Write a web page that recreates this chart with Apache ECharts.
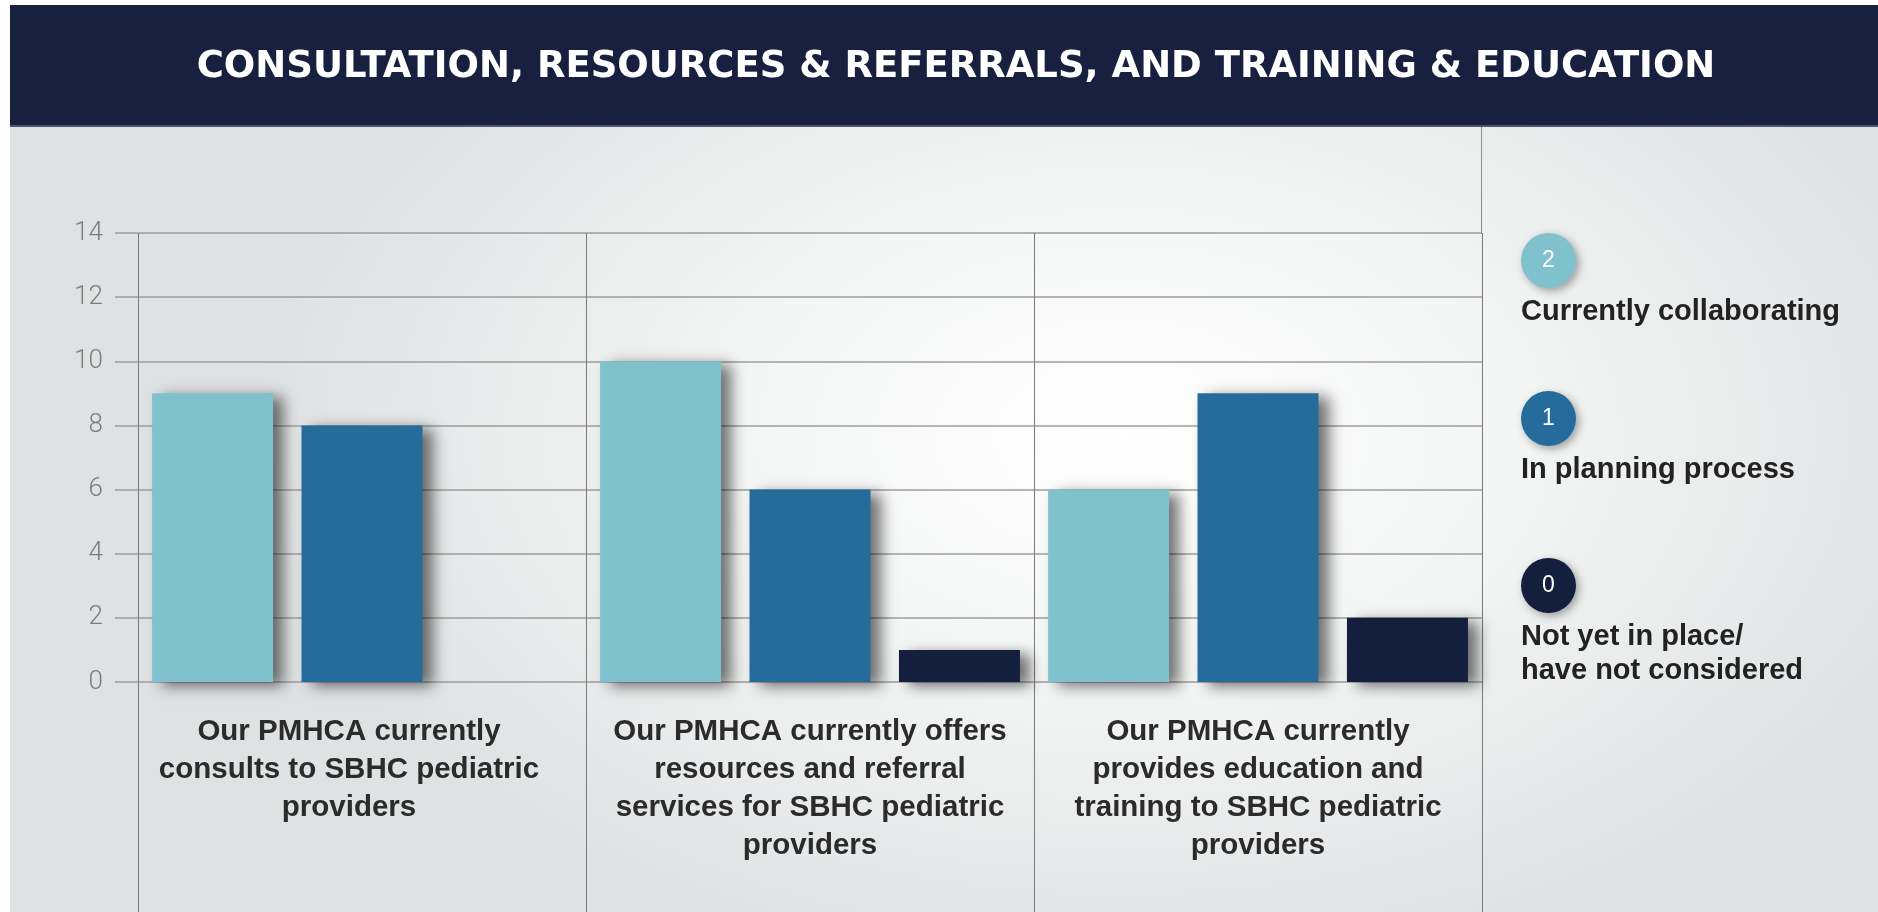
<!DOCTYPE html>
<html>
<head>
<meta charset="utf-8">
<title>Consultation, Resources &amp; Referrals, and Training &amp; Education</title>
<script src="https://cdn.jsdelivr.net/npm/echarts@6/dist/echarts.min.js"></script>
<style>
  html, body {
    margin: 0;
    padding: 0;
    background: #fff;
  }

  .page {
    position: relative;
    width: 1878px;
    height: 912px;
    overflow: hidden;
  }

  /* grey backdrop with the soft white glow behind the bars */
  .panel {
    position: absolute;
    left: 10px;
    top: 127px;
    width: 1868px;
    height: 785px;
    background: radial-gradient(ellipse 860px 540px at 1110px 310px, #ffffff 0%, #f5f6f6 42%, #dfe2e3 100%);
  }

  #chart {
    position: absolute;
    left: 0;
    top: 0;
    width: 1878px;
    height: 912px;
  }
</style>
</head>
<body>
<div class="page">
  <div class="panel"></div>
  <div id="chart"></div>
</div>

<script>
// 数据
const titleText = 'CONSULTATION, RESOURCES & REFERRALS, AND TRAINING & EDUCATION'

const categories = [
  'Our PMHCA currently\nconsults to SBHC pediatric\nproviders',
  'Our PMHCA currently offers\nresources and referral\nservices for SBHC pediatric\nproviders',
  'Our PMHCA currently\nprovides education and\ntraining to SBHC pediatric\nproviders'
]

const seriesNames = ['Currently collaborating', 'In planning process', 'Not yet in place/have not considered']
const legendCodes = ['2', '1', '0']
const legendLabels = ['Currently collaborating', 'In planning process', 'Not yet in place/\nhave not considered']

const collaborating = [9, 10, 6]
const planning = [8, 6, 9]
const notInPlace = [0, 1, 2]

const yMin = 0
const yMax = 14
const yStep = 2

const colors = ['#7fc2cd', '#256c9c', '#141f3e']
const legendTops = [233, 391, 558]

const textFont = '"Liberation Sans", Arial, Helvetica, sans-serif'

const chart = echarts.init(document.getElementById('chart'))

// 柱子（右侧投影）
const makeBar = (name, data, color) => ({
  name,
  type: 'bar',
  data,
  barWidth: 121,
  barGap: '23.5%',
  itemStyle: {
    color,
    shadowBlur: 14,
    shadowColor: 'rgba(0, 0, 0, 0.55)',
    shadowOffsetX: 10,
    shadowOffsetY: 4
  },
  emphasis: { disabled: true }
})

// 图例：每一项单独放置，圆点中写编号，下方是说明
const legends = seriesNames.map((name, i) => ({
  data: [name],
  orient: 'vertical',
  left: 1516,
  top: legendTops[i],
  padding: 0,
  itemWidth: 0,
  itemHeight: 0,
  formatter: () => `{c${i}|${legendCodes[i]}}\n{s| }\n{t|${legendLabels[i]}}`,
  textStyle: {
    rich: {
      [`c${i}`]: {
        height: 55,
        lineHeight: 55,
        padding: [0, 21.1, 0, 21.1],
        borderRadius: 28,
        backgroundColor: colors[i],
        color: '#fff',
        fontSize: 23,
        fontFamily: textFont,
        shadowBlur: 8,
        shadowColor: 'rgba(0, 0, 0, 0.35)',
        shadowOffsetX: 3,
        shadowOffsetY: 3
      },
      s: { fontSize: 2, lineHeight: 7 },
      t: {
        fontSize: 29,
        fontWeight: 'bold',
        fontFamily: textFont,
        color: '#222',
        lineHeight: 34
      }
    }
  }
}))

const labelStyle = {
  fontSize: 29.5,
  fontWeight: 'bold',
  fontFamily: textFont,
  lineHeight: 38,
  color: '#2b2b2b'
}

const option = {
  animation: false,
  graphic: [
    {
      type: 'rect',
      shape: { x: 10, y: 5, width: 1868, height: 122 },
      style: { fill: '#18203f' }
    },
    {
      type: 'rect',
      shape: { x: 10, y: 125, width: 1868, height: 2 },
      style: { fill: '#4d546b' }
    },
    {
      type: 'text',
      x: 956,
      y: 67,
      style: {
        text: titleText,
        fill: '#fff',
        font: 'bold 37px "DejaVu Sans", sans-serif',
        align: 'center',
        verticalAlign: 'middle'
      }
    },
    {
      // 图例区的分隔线向上延伸到标题栏
      type: 'line',
      shape: { x1: 1481.5, y1: 127, x2: 1481.5, y2: 234 },
      style: { stroke: '#8c8c8c', lineWidth: 1 }
    }
  ],
  legend: legends,
  grid: {
    left: 138,
    right: 396,
    top: 233,
    bottom: 230,
    containLabel: false,
    outerBoundsMode: 'none'
  },
  xAxis: {
    type: 'category',
    data: categories,
    axisLine: { show: false },
    axisTick: {
      show: true,
      interval: 0,
      length: 230,
      lineStyle: { color: '#7a7a7a', width: 1 }
    },
    splitLine: {
      show: true,
      interval: 0,
      lineStyle: { color: '#7a7a7a', width: 1 }
    },
    axisLabel: {
      interval: 0,
      margin: 31,
      align: 'center',
      ...labelStyle,
      // 第一组文字在原图中略微偏左
      formatter: (value, index) => (index === 0 ? `{shift|${value}}` : value),
      rich: {
        shift: { ...labelStyle, padding: [0, 26, 0, 0] }
      }
    }
  },
  yAxis: {
    type: 'value',
    min: yMin,
    max: yMax,
    interval: yStep,
    axisLine: { show: false },
    axisTick: {
      show: true,
      length: 23,
      lineStyle: { color: '#9c9c9c', width: 1.5 }
    },
    splitLine: {
      lineStyle: { color: '#9c9c9c', width: 1.5 }
    },
    axisLabel: {
      margin: 35,
      fontSize: 26,
      fontFamily: 'Roboto, "Liberation Sans", sans-serif',
      fontWeight: 300,
      color: '#7c7c7c'
    }
  },
  series: [
    makeBar(seriesNames[0], collaborating, colors[0]),
    makeBar(seriesNames[1], planning, colors[1]),
    makeBar(seriesNames[2], notInPlace, colors[2])
  ]
}

chart.setOption(option)

window.addEventListener('resize', () => chart.resize())
</script>
</body>
</html>
